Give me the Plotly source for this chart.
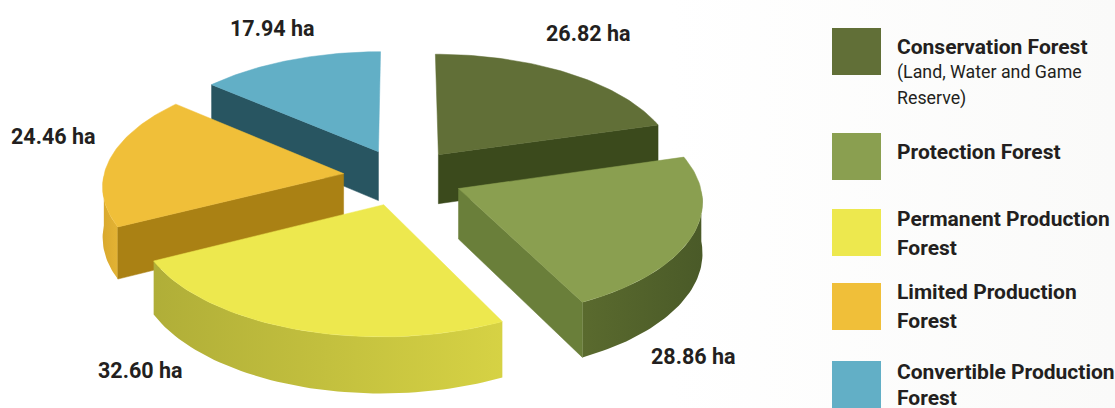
import math
import plotly.graph_objects as go

categories = ["Conservation Forest", "Protection Forest", "Permanent Production Forest",
              "Limited Production Forest", "Convertible Production Forest"]
values = [26.82, 28.86, 32.60, 24.46, 17.94]
value_labels = ["26.82 ha", "28.86 ha", "32.60 ha", "24.46 ha", "17.94 ha"]
legend_lines = [
    [("Conservation Forest", True), ("(Land, Water and Game", False), ("Reserve)", False)],
    [("Protection Forest", True)],
    [("Permanent Production", True), ("Forest", True)],
    [("Limited Production", True), ("Forest", True)],
    [("Convertible Production", True), ("Forest", True)],
]

W, H = 1115, 408
top_colors = ["#616f37", "#8a9f50", "#ede84e", "#f0bf39", "#62afc6"]
cut_colors = ["#3b4a1c", "#6a7f3a", "#b5b23a", "#aa8114", "#285561"]
wall_left = ["#3b4a1c", "#5a6a2e", "#b0ae38", "#d9a92e", "#285561"]
wall_right = ["#3b4a1c", "#4a5a28", "#d6d244", "#e3b334", "#285561"]
label_pos = [(588, 33), (693, 356), (140, 370), (53, 136), (272, 28)]
swatch_y = [(28, 75), (133, 180), (209, 256), (283, 330), (361, 408)]
legend_y = [[47, 72, 98], [152], [219, 248], [292, 321], [372, 398]]
FONT = "Roboto, Liberation Sans, Arial, sans-serif"

CX, CY, A, B, P, EXPLODE, DEPTH, START = 403, 177, 240, 114, 0.095, 0.25, 50, 0.0


def proj(x, y, z=0.0):
    s = 1 / (1 + P * y)
    return CX + A * x * s, CY - B * y * s + DEPTH * z * s


def wedge(i, a0, a1):
    mid = math.radians((a0 + a1) / 2)
    ox, oy = EXPLODE * math.sin(mid), EXPLODE * math.cos(mid)
    n = 60
    arc = [a0 + (a1 - a0) * k / n for k in range(n + 1)]
    pt = lambda a, z=0.0: proj(ox + math.sin(math.radians(a)), oy + math.cos(math.radians(a)), z)
    apex = lambda z=0.0: proj(ox, oy, z)
    traces = []

    def poly(points, **kw):
        xs = [p[0] for p in points] + [points[0][0]]
        ys = [p[1] for p in points] + [points[0][1]]
        traces.append(go.Scatter(x=xs, y=ys, mode="lines", fill="toself", hoverinfo="skip",
                                 showlegend=False, **kw))

    def solid(points, c):
        poly(points, fillcolor=c, line=dict(color=c, width=0.5))

    # outer wall: only the part of the rim that faces the viewer
    vis = [a for a in arc if 90 <= (a % 360) <= 270]
    if len(vis) > 1:
        pts = [pt(a) for a in vis] + [pt(a, 1) for a in reversed(vis)]
        poly(pts, fillgradient=dict(type="horizontal",
                                    colorscale=[[0, wall_left[i]], [1, wall_right[i]]]),
             line=dict(color="rgba(0,0,0,0)", width=0))
    # cut faces: visible when the outward normal points downward on screen
    for a, sign in ((a0, -1), (a1, 1)):
        ny = math.cos(math.radians(a + sign * 90))
        if ny < -0.1:
            solid([apex(), pt(a), pt(a, 1), apex(1)], cut_colors[i])
    solid([apex()] + [pt(a) for a in arc], top_colors[i])
    return traces


total = sum(values)
angles = []
cur = START
for v in values:
    angles.append((cur, cur + v / total * 360))
    cur += v / total * 360

fig = go.Figure()
fig.add_trace(go.Scatter(x=[0, W, W, 0, 0], y=[0, 0, H, H, 0], mode="lines", fill="toself",
                         fillgradient=dict(type="horizontal",
                                           colorscale=[[0, "#ffffff"], [0.6, "#ffffff"], [1, "#fafaf9"]]),
                         line=dict(width=0, color="rgba(0,0,0,0)"), hoverinfo="skip", showlegend=False))
for i in (4, 0, 3, 1, 2):
    for t in wedge(i, *angles[i]):
        fig.add_trace(t)

shapes = []
annotations = []
for (y0, y1), c in zip(swatch_y, top_colors):
    shapes.append(dict(type="rect", xref="x", yref="y", x0=832, x1=881, y0=y0, y1=y1,
                       fillcolor=c, line=dict(width=0), layer="above"))
for lab, (x, y) in zip(value_labels, label_pos):
    annotations.append(dict(x=x, y=y, xref="x", yref="y", text="<b>%s</b>" % lab, showarrow=False,
                            xanchor="center", yanchor="middle",
                            font=dict(family=FONT, size=21.5, color="#231f20")))
for lines, ys in zip(legend_lines, legend_y):
    for (txt, bold), y in zip(lines, ys):
        annotations.append(dict(x=895, y=y, xref="x", yref="y", showarrow=False,
                                text="<b>%s</b>" % txt if bold else txt,
                                xanchor="left", yanchor="middle",
                                font=dict(family=FONT, size=21 if bold else 17.8, color="#231f20")))

fig.update_layout(width=W, height=H, margin=dict(l=0, r=0, t=0, b=0), paper_bgcolor="white",
                  plot_bgcolor="white", showlegend=False, shapes=shapes, annotations=annotations,
                  xaxis=dict(range=[0, W], visible=False, fixedrange=True),
                  yaxis=dict(range=[H, 0], visible=False, fixedrange=True))
fig.write_html("out.html", config=dict(displayModeBar=False),
               post_script="document.body.style.margin='0';document.documentElement.style.overflow='hidden';")
